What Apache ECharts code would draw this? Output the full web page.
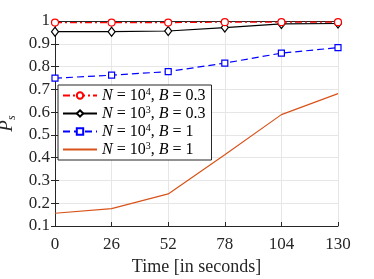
<!DOCTYPE html>
<html><head><meta charset="utf-8">
<script src="https://cdn.jsdelivr.net/npm/echarts@6/dist/echarts.min.js"></script>
<style>html,body{margin:0;padding:0;background:#fff}#c{width:374px;height:279px}</style>
</head><body><div id="c"></div>
<script>
const times = [0, 26, 52, 78, 104, 130];
const yTicks = [0.1,0.2,0.3,0.4,0.5,0.6,0.7,0.8,0.9,1];
const redN4B03 = [0.993, 0.993, 0.993, 0.995, 0.995, 0.995];
const blackN3B03 = [0.953, 0.953, 0.956, 0.971, 0.987, 0.989];
const blueN4B1 = [0.749, 0.762, 0.778, 0.815, 0.859, 0.883];
const orangeN3B1 = [0.156, 0.176, 0.241, 0.413, 0.589, 0.681];
const names = ['n4b03','n3b03','n4b1','n3b1'];
const labels = {
  n4b03: '{i|N} = 10{s|4}, {i|B} = 0.3',
  n3b03: '{i|N} = 10{s|3}, {i|B} = 0.3',
  n4b1: '{i|N} = 10{s|4}, {i|B} = 1',
  n3b1: '{i|N} = 10{s|3}, {i|B} = 1'
};
const font = 'Liberation Serif';
const chart = echarts.init(document.getElementById('c'), null, {renderer:'canvas'});
const pair = arr => arr.map((v,i)=>[times[i], v]);
const axisCommon = {
  axisLine:{show:true, lineStyle:{color:'#262626', width:1}},
  axisTick:{show:true, inside:true, length:4, lineStyle:{color:'#262626'}},
};
chart.setOption({
  animation:false,
  grid:{left:55, right:36, top:21, bottom:53, containLabel:false, outerBoundsMode:'none'},
  xAxis:[{
    type:'value', min:0, max:130, interval:26,
    ...axisCommon,
    axisLabel:{color:'#262626', fontFamily:font, fontSize:17, margin:10},
    splitLine:{show:true, lineStyle:{color:'#e6e6e6', width:1}},
    name:'Time [in seconds]', nameLocation:'middle', nameGap:31,
    nameTextStyle:{color:'#262626', fontFamily:font, fontSize:18}
  },{
    type:'value', min:0, max:130, interval:26, position:'top',
    ...axisCommon, axisLabel:{show:false}, splitLine:{show:false}
  }],
  yAxis:[{
    type:'value', min:0.1, max:1, interval:0.1,
    ...axisCommon,
    axisLabel:{color:'#262626', fontFamily:font, fontSize:17, margin:5,
      formatter: v => { const t = yTicks.find(x=>Math.abs(x-v)<1e-6); return t===1?'1':String(t); }},
    splitLine:{show:true, lineStyle:{color:'#e6e6e6', width:1}},
    name:'{i|P}{s|s}', nameLocation:'middle', nameGap:36, nameRotate:90,
    nameTextStyle:{color:'#262626', fontFamily:font, fontSize:18,
      rich:{i:{fontStyle:'italic', fontFamily:font, fontSize:19, color:'#262626'},
            s:{fontStyle:'italic', fontFamily:font, fontSize:12, color:'#262626', verticalAlign:'bottom', padding:[9,0,0,0]}}}
  },{
    type:'value', min:0.1, max:1, interval:0.1, position:'right',
    ...axisCommon, axisLabel:{show:false}, splitLine:{show:false}
  }],
  legend:{
    show:true, orient:'vertical', left:58, top:85,
    backgroundColor:'#fff', borderColor:'#262626', borderWidth:1, borderRadius:0,
    padding:[2,6,1,4], itemGap:0, itemWidth:34, itemHeight:8,
    data: names,
    formatter: n => labels[n],
    textStyle:{fontFamily:font, fontSize:16, color:'#000', lineHeight:17,
      rich:{i:{fontStyle:'italic', fontFamily:font, fontSize:16, lineHeight:17},
            s:{fontFamily:font, fontSize:10, verticalAlign:'top', lineHeight:17, padding:[0,0,8,0]}}}
  },
  series:[
    {name:'n4b03', type:'line', data:pair(redN4B03), symbol:'circle', symbolSize:7,
      color:'#ff0000', itemStyle:{color:'#fff', borderColor:'#ff0000', borderWidth:1.2},
      lineStyle:{color:'#ff0000', width:1.2, type:[7,3,2,3]}, z:5},
    {name:'n3b03', type:'line', data:pair(blackN3B03), symbol:'diamond', symbolSize:[7,9],
      color:'#000', itemStyle:{color:'#fff', borderColor:'#000', borderWidth:1.2},
      lineStyle:{color:'#000', width:1.2, type:'solid'}, z:4},
    {name:'n4b1', type:'line', data:pair(blueN4B1), symbol:'rect', symbolSize:6,
      color:'#0000ff', itemStyle:{color:'#fff', borderColor:'#0000ff', borderWidth:1.2},
      lineStyle:{color:'#0000ff', width:1.2, type:[7,4]}, z:3},
    {name:'n3b1', type:'line', data:pair(orangeN3B1),
      symbol:'path://M0,0L10,0L10,0.01L0,0.01Z', showSymbol:false, symbolSize:0.1,
      color:'#d95319', itemStyle:{color:'#d95319', opacity:0},
      lineStyle:{color:'#d95319', width:1.2, opacity:1}, z:2}
  ]
});
</script></body></html>
